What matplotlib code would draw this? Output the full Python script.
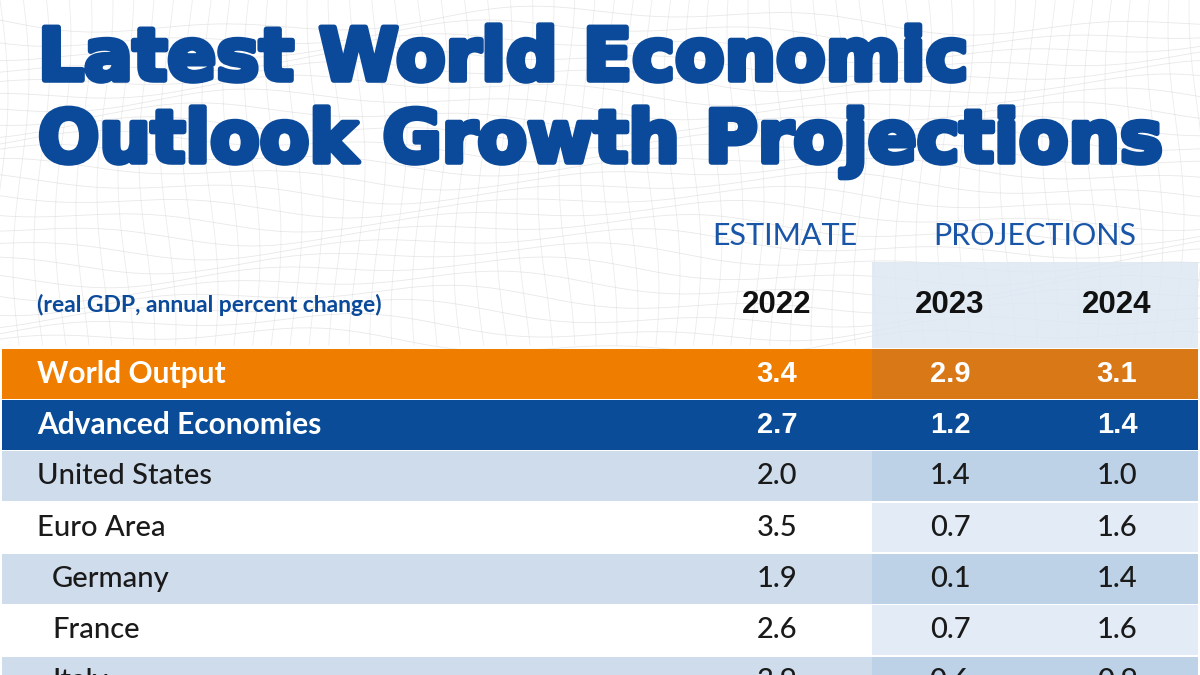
import numpy as np
import matplotlib.pyplot as plt
import matplotlib.patheffects as pe
from matplotlib.patches import Rectangle

# data
countries = ['World Output', 'Advanced Economies', 'United States', 'Euro Area',
             'Germany', 'France', 'Italy']
indent = [0, 0, 0, 0, 1, 1, 1]
years = ['2022', '2023', '2024']
v2022 = [3.4, 2.7, 2.0, 3.5, 1.9, 2.6, 3.9]
v2023 = [2.9, 1.2, 1.4, 0.7, 0.1, 0.7, 0.6]
v2024 = [3.1, 1.4, 1.0, 1.6, 1.4, 1.6, 0.9]

title_lines = ['Latest World Economic', 'Outlook Growth Projections']
subtitle = '(real GDP, annual percent change)'

BLUE = '#0b4a9a'
ORANGE = '#ef7d00'
ORANGE_D = '#d97817'
NAVY = '#0a4c97'
LB = '#cfdcec'
LB_D = '#bdd1e7'
W_D = '#e3ecf6'

plt.rcParams['font.family'] = ['Lato', 'DejaVu Sans']

fig = plt.figure(figsize=(12, 6.75), dpi=100)
ax = fig.add_axes([0, 0, 1, 1])
ax.set_xlim(0, 1200)
ax.set_ylim(675, 0)
ax.axis('off')

# faint wire mesh in the background (decoration)
xx = np.linspace(0, 1200, 200)
for k in range(24):
    base = 20 + k * 14
    ax.plot(xx, base + 10 * np.sin(xx / 130 + k * 0.4) + 6 * np.sin(xx / 47 + k),
            color='#d6d6d6', lw=0.6, alpha=0.55, zorder=0)
for k in range(60):
    yy = np.linspace(0, 345, 60)
    ax.plot(k * 21 + 8 * np.sin(yy / 60 + k * 0.3), yy, color='#d6d6d6', lw=0.6,
            alpha=0.45, zorder=0)

# columns
col_x = [777, 950, 1117]
proj_left, right = 872, 1198
row_top, row_h = 348, 51.3

# projection column shading
ax.add_patch(Rectangle((proj_left, 262), right - proj_left, row_top - 262,
                       color='#dde8f3', alpha=0.85, zorder=1, lw=0))

# rows
for i, name in enumerate(countries):
    y0 = row_top + i * row_h
    yc = y0 + row_h / 2
    if i == 0:
        c1, c2, tc = ORANGE, ORANGE_D, 'white'
    elif i == 1:
        c1, c2, tc = NAVY, NAVY, 'white'
    elif i % 2 == 0:
        c1, c2, tc = LB, LB_D, '#1a1a1a'
    else:
        c1, c2, tc = 'white', W_D, '#1a1a1a'
    ax.barh(yc, proj_left - 2, left=2, height=row_h - 1.5, color=c1, zorder=2)
    ax.barh(yc, right - proj_left, left=proj_left, height=row_h - 1.5,
            color=c2, zorder=2)
    if i < 2:
        ax.text(37, yc, name, color=tc, fontsize=21.5, fontweight='bold',
                va='center', ha='left', zorder=3)
    else:
        ax.text(37 + 15 * indent[i], yc, name, color=tc, fontsize=21,
                fontweight='medium', va='center', ha='left', zorder=3)
    for cx, vals in zip(col_x, [v2022, v2023, v2024]):
        if i < 2:
            ax.text(cx, yc, f'{vals[i]:.1f}', color=tc, fontsize=21,
                    fontweight='bold', family='Liberation Sans',
                    va='center', ha='center', zorder=3)
        else:
            ax.text(cx, yc, f'{vals[i]:.1f}', color=tc, fontsize=21,
                    fontweight='medium', va='center', ha='center', zorder=3)

# headers
ax.text(785, 236, 'ESTIMATE', color='#1a56a8', fontsize=22, ha='center',
        va='center', zorder=3)
ax.text(1035, 236, 'PROJECTIONS', color='#1a56a8', fontsize=22, ha='center',
        va='center', zorder=3)
for cx, yr in zip(col_x, years):
    ax.text(cx, 305, yr, fontsize=22.5, fontweight='bold', family='Liberation Sans',
            color='#111111', ha='center', va='center', zorder=3)
ax.text(37, 305, subtitle, color=BLUE, fontsize=16.5, fontweight='bold',
        ha='left', va='center', zorder=3)

# title
for line, yb in zip(title_lines, [80, 162]):
    ax.text(38, yb, line, color=BLUE, fontsize=52, fontweight='bold',
            family='DejaVu Sans', ha='left', va='baseline', zorder=3,
            path_effects=[pe.withStroke(linewidth=4, foreground=BLUE)])

fig.savefig('out.png', dpi=100, facecolor='white')
